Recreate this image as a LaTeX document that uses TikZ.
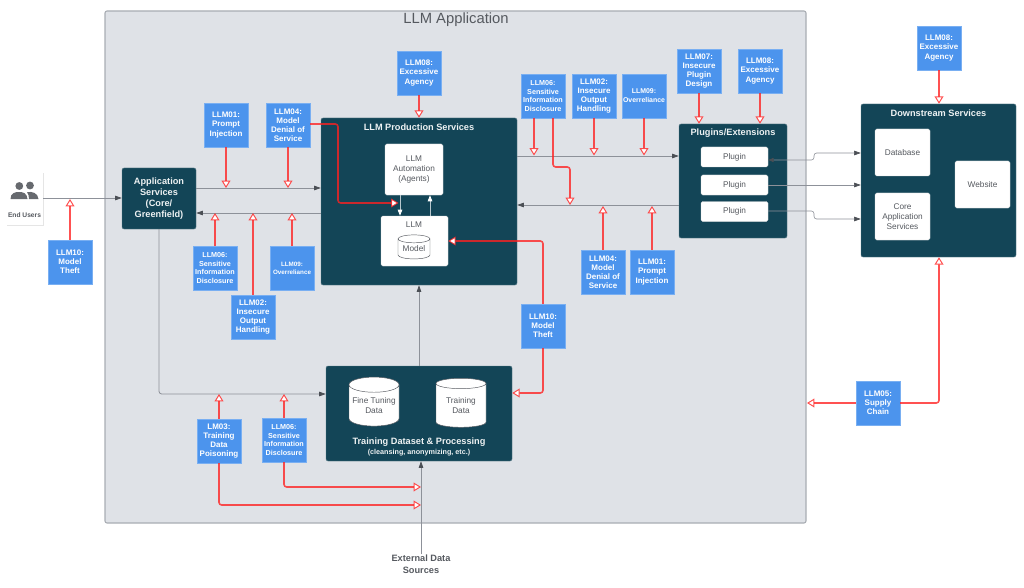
\documentclass[tikz,border=0pt]{standalone}
\usepackage{fontspec}
\setmainfont{Liberation Sans}
\usetikzlibrary{arrows.meta,shapes.geometric,shadows}
\definecolor{darkbox}{HTML}{134557}
\definecolor{noteblue}{HTML}{4C94ED}
\definecolor{appbg}{HTML}{DFE2E7}
\definecolor{appline}{HTML}{A9ADB3}
\definecolor{txtgrey}{HTML}{55595F}
\definecolor{linegrey}{HTML}{8D9199}
\definecolor{tipgrey}{HTML}{4B4F55}
\definecolor{riskred}{HTML}{FF2020}
\newcommand{\fs}[2]{\fontsize{#1}{#2}\selectfont}
\tikzset{
  sz/.style 2 args={minimum width=#1*.75pt,minimum height=#2*.75pt},
  note/.style={fill=noteblue,draw=noteblue!75!white,line width=.2pt,sz={44}{44},inner sep=0pt,align=center,text=white,
    font=\bfseries\fs{6}{6.8},drop shadow={shadow xshift=-.3pt,shadow yshift=-.8pt,opacity=.12,fill=black}},
  small/.style={font=\bfseries\fs{5.4}{6.3}},
  tiny/.style={font=\bfseries\fs{4.7}{6}},
  dark/.style={fill=darkbox,draw=darkbox!70!white,line width=.35pt,rounded corners=1.5pt,inner sep=0pt,align=center,text=white},
  head/.style={font=\bfseries\fs{6.9}{8.2},text=white!93!darkbox,align=center,inner sep=0pt},
  light/.style={fill=white,draw=white!85!black,line width=.3pt,rounded corners=1.2pt,inner sep=0pt,align=center,text=txtgrey,font=\fs{6.2}{7.6}},
  drum/.style={cylinder,shape border rotate=90,aspect=.35,fill=white,draw=txtgrey,line width=.35pt,inner sep=0pt,align=center,text=txtgrey,font=\fs{6.2}{7.6}},
  flow/.style={draw=linegrey,line width=.6pt,rounded corners=2pt,-{Triangle[length=5pt,width=3.4pt,color=tipgrey]}},
  flowthin/.style={draw=linegrey,line width=.45pt,rounded corners=2pt,-{Triangle[length=5pt,width=3.4pt,color=tipgrey]}},
  risk/.style={draw=riskred,draw opacity=.78,line width=1.2pt,rounded corners=2pt,
    -{Triangle[open,fill=white,line width=.75pt,length=5.5pt,width=6.6pt,color=riskred]}},
}
\begin{document}
\begin{tikzpicture}[x=.75pt,y=-.75pt]
\useasboundingbox (0,0) rectangle (1024,588);
% application backdrop
\node[fill=appbg,draw=appline,line width=.8pt,rounded corners=1.5pt,sz={701}{512},inner sep=0pt] (appbox) at (455.5,267) {};
\node[font=\fs{11.1}{13},text=txtgrey,inner sep=0pt] (apptitle) at (456,20) {LLM Application};

% end users
\node[fill=white,sz={37}{53},inner sep=0pt,drop shadow={shadow xshift=.5pt,shadow yshift=-.5pt,opacity=.1,fill=black}] (card) at (24.5,198.5) {};
\fill[tipgrey!85!white] (19.3,186) circle (3.9) (30,185.5) circle (3.9);
\fill[tipgrey!85!white] (10.5,199) .. controls (10.5,193) and (15,192) .. (19,192) .. controls (23,192) and (27,193) .. (27.5,199) -- cycle;
\fill[tipgrey!85!white] (29,199) .. controls (29,196) and (28.5,194) .. (27,192.3) .. controls (32,191) and (38,193) .. (38.5,199) -- cycle;
\node[font=\bfseries\fs{5}{6},text=txtgrey,inner sep=0pt] (usr) at (24.5,215) {End Users};

% main boxes
\node[dark,sz={74}{61},head] (app) at (159,198.5) {Application\\Services\\(Core/\\Greenfield)};
\node[dark,sz={196}{167}] (prod) at (419,201.5) {};
\node[head,anchor=center] (prodtitle) at (419,127.5) {LLM Production Services};
\node[light,sz={58}{51}] (auto) at (414,169.5) {LLM\\Automation\\(Agents)};
\node[light,sz={67}{50}] (llm) at (414.5,241) {};
\node[font=\fs{6.2}{7.6},text=txtgrey,inner sep=0pt] (llmlabel) at (414,225) {LLM};
\node[drum,sz={32}{24}] (model) at (414,249) {Model};

\node[dark,sz={186}{95}] (train) at (419,413.5) {};
\node[drum,sz={50}{49}] (fine) at (374,405.5) {Fine Tuning\\Data};
\node[drum,sz={50}{49}] (tdata) at (461,405.5) {Training\\Data};
\node[head,inner sep=0pt] (traintitle) at (419,442) {Training Dataset \& Processing};
\node[font=\bfseries\fs{5.4}{6.5},text=white!93!darkbox,inner sep=0pt] (trainsub) at (419,452.5) {(cleansing, anonymizing, etc.)};

\node[dark,sz={108}{114}] (plug) at (733,181) {};
\node[head] (plugtitle) at (733,133.5) {Plugins/Extensions};
\node[light,sz={67}{20}] (p1) at (734.5,157) {Plugin};
\node[light,sz={67}{20}] (p2) at (734.5,185) {Plugin};
\node[light,sz={67}{20}] (p3) at (734.5,211.5) {Plugin};

\node[dark,sz={155}{153}] (down) at (938.5,180.5) {};
\node[head] (downtitle) at (938.5,113) {Downstream Services};
\node[light,sz={55}{47}] (db) at (902.5,152.5) {Database};
\node[light,sz={55}{47}] (core) at (902.5,216.5) {Core\\Application\\Services};
\node[light,sz={55}{47}] (web) at (982.5,184.5) {Website};

\node[font=\bfseries\fs{6.9}{9},text=txtgrey,align=center,inner sep=0pt] (ext) at (421,564) {External Data\\Sources};

% grey flows
\draw[flow] (card.east |- 0,198) -- (app.west |- 0,198);
\draw[flow] (app.east |- 0,188) -- (prod.west |- 0,188);
\draw[flow] (prod.west |- 0,213) -- (app.east |- 0,213);
\draw[flow] (app.south) -- (159,394) -- (train.west |- 0,394);
\draw[flow] (train.north) -- (prod.south);
\draw[flow] (ext.north) -- (train.south -| ext.north);
\draw[flow] (prod.east |- 0,156) -- (plug.west |- 0,156);
\draw[flow] (plug.west |- 0,205) -- (prod.east |- 0,205);
\draw[draw=white!70!darkbox,line width=.6pt,-{Triangle[length=4.6pt,width=3.4pt,color=white]}] (auto.south -| 400,0) -- (llm.north -| 400,0);
\draw[draw=white!70!darkbox,line width=.6pt,-{Triangle[length=4.6pt,width=3.4pt,color=white]}] (llm.north -| 430,0) -- (auto.south -| 430,0);
\draw[flowthin,{Triangle[length=4pt,width=3pt,color=tipgrey]}-{Triangle[length=5pt,width=3.4pt,color=tipgrey]}] (p1.east |- 0,160) -- (814,160) -- (814,153) -- (down.west |- 0,153);
\draw[flowthin] (p2.east) -- (down.west |- p2.east);
\draw[flowthin] (p3.east |- 0,211) -- (814,211) -- (814,219) -- (down.west |- 0,219);

% risk notes
\node[note] (n10a) at (70,262) {LLM10:\\Model\\Theft};
\node[note] (n01a) at (226,125) {LLM01:\\Prompt\\Injection};
\node[note] (n04a) at (288,125) {LLM04:\\Model\\Denial of\\Service};
\node[note,small] (n06a) at (215,268) {LLM06:\\Sensitive\\Information\\Disclosure};
\node[note] (n02a) at (253,317) {LLM02:\\Insecure\\Output\\Handling};
\node[note,tiny] (n09a) at (292,268) {LLM09:\\Overreliance};
\node[note] (n08a) at (419,73) {LLM08:\\Excessive\\Agency};
\node[note,small] (n06b) at (543,96) {LLM06:\\Sensitive\\Information\\Disclosure};
\node[note] (n02b) at (594,96) {LLM02:\\Insecure\\Output\\Handling};
\node[note,font=\bfseries\fs{5.2}{6.8}] (n09b) at (644,96) {LLM09:\\Overreliance};
\node[note] (n07) at (699,71) {LLM07:\\Insecure\\Plugin\\Design};
\node[note] (n08b) at (760,71) {LLM08:\\Excessive\\Agency};
\node[note] (n08c) at (939,48) {LLM08:\\Excessive\\Agency};
\node[note] (n04b) at (603,272) {LLM04:\\Model\\Denial of\\Service};
\node[note] (n01b) at (652,272) {LLM01:\\Prompt\\Injection};
\node[note] (n10b) at (543,326) {LLM10:\\Model\\Theft};
\node[note] (n05) at (878,403) {LLM05:\\Supply\\Chain};
\node[note] (n03) at (219,441) {LM03:\\Training\\Data\\Poisoning};
\node[note,small] (n06c) at (284,440) {LLM06:\\Sensitive\\Information\\Disclosure};

% risk connector ends
\coordinate (e10a) at (70,199);
\coordinate (e01a) at (226,188);
\coordinate (e04a) at (288,188);
\coordinate (e06a) at (215,213);
\coordinate (e02a) at (253,213);
\coordinate (e09a) at (292,213);
\coordinate (e06b) at (534,155.5);
\coordinate (e06x) at (570,205);
\coordinate (e02b) at (594,155.5);
\coordinate (e09b) at (644,155.5);
\coordinate (e04b) at (603,206);
\coordinate (e01b) at (652,206);
\coordinate (e06c) at (284,394);
\coordinate (e03) at (219,394);
\coordinate (e06d) at (421,487);
\coordinate (e03b) at (421,505);
\coordinate (e05) at (807,403);
\coordinate (e04c) at (398.5,203);

\draw[risk] (n10a.north) -- (e10a);
\draw[risk] (n01a.south) -- (e01a);
\draw[risk] (n04a.south) -- (e04a);
\draw[risk] (n06a.north) -- (e06a);
\draw[risk] (n02a.north) -- (e02a);
\draw[risk] (n09a.north) -- (e09a);
\draw[risk] (n08a.south) -- (prod.north);
\draw[risk] (n06b.south -| e06b) -- (e06b);
\draw[risk] (n06b.south -| 553,0) -- (553,167) -- (570,167) -- (e06x);
\draw[risk] (n02b.south) -- (e02b);
\draw[risk] (n09b.south) -- (e09b);
\draw[risk] (n07.south) -- (plug.north -| n07.south);
\draw[risk] (n08b.south) -- (plug.north -| n08b.south);
\draw[risk] (n08c.south) -- (down.north -| n08c.south);
\draw[risk] (n04b.north) -- (e04b);
\draw[risk] (n01b.north) -- (e01b);
\draw[risk] (n04a.east |- 0,124) -- (338,124) -- (338,203) -- (e04c);
\draw[risk] (n10b.north) -- (543,241) -- (llm.east |- 0,241);
\draw[risk] (n10b.south) -- (543,393) -- (train.east |- 0,393);
\draw[risk] (n05.west) -- (e05);
\draw[risk] (n05.east) -- (939,403) -- (down.south -| 939,0);
\draw[risk] (n03.north) -- (e03);
\draw[risk] (n06c.north) -- (e06c);
\draw[risk] (n06c.south) -- (284,487) -- (e06d);
\draw[risk] (n03.south) -- (219,505) -- (e03b);
\end{tikzpicture}
\end{document}
